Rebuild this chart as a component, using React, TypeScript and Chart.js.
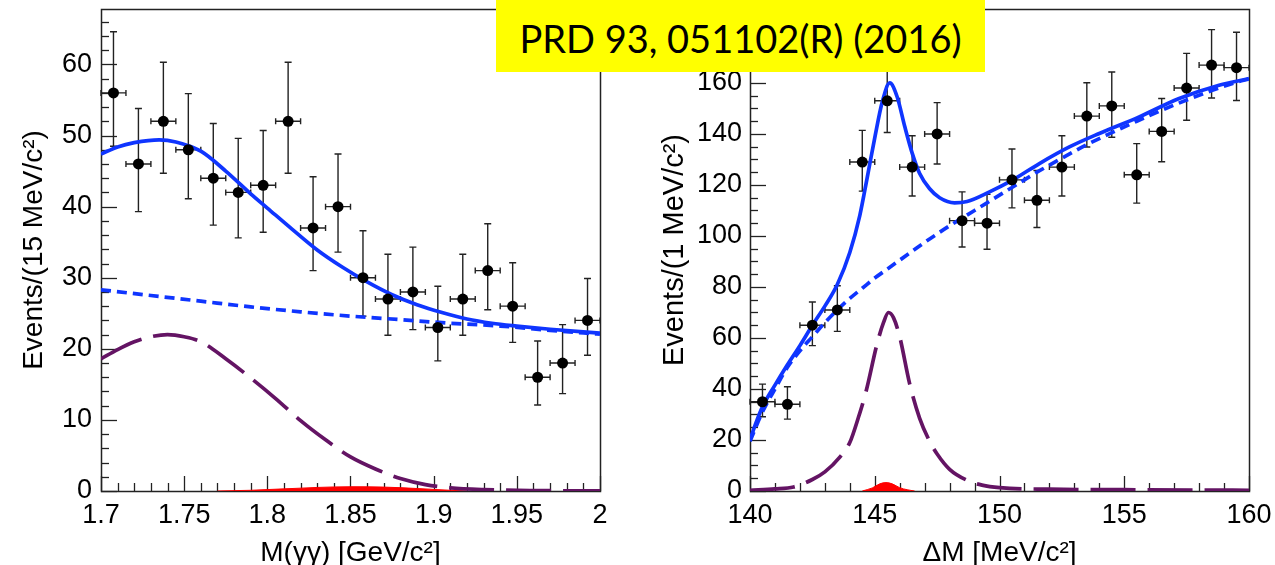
import React, { useEffect, useRef } from "react";
import { Chart, registerables } from "chart.js";

Chart.register(...registerables);

// ---------------- Left panel: M(γγ) ----------------
const leftBinCenters = [1.7075, 1.7225, 1.7375, 1.7525, 1.7675, 1.7825, 1.7975, 1.8125, 1.8275, 1.8425, 1.8575, 1.8725, 1.8875, 1.9025, 1.9175, 1.9325, 1.9475, 1.9625, 1.9775, 1.9925];
const leftCounts = [56, 46, 52, 48, 44, 42, 43, 52, 37, 40, 30, 27, 28, 23, 27, 31, 26, 16, 18, 24];
const leftErrLow = [7.5, 6.7, 7.3, 6.9, 6.6, 6.4, 6.6, 7.3, 6.0, 6.4, 5.4, 5.1, 5.3, 4.7, 5.1, 5.5, 5.1, 3.9, 4.3, 4.9];
const leftErrHigh = [8.6, 7.8, 8.3, 7.9, 7.7, 7.6, 7.7, 8.3, 7.2, 7.4, 6.6, 6.3, 6.3, 5.8, 6.3, 6.6, 6.1, 5.1, 5.4, 5.9];
const leftHalfBin = 0.0075;

const leftTotalX = [1.7, 1.71, 1.72, 1.735, 1.745, 1.76, 1.775, 1.79, 1.8, 1.815, 1.83, 1.845, 1.86, 1.875, 1.89, 1.905, 1.92, 1.935, 1.95, 1.97, 2.0];
const leftTotalY = [47.4, 48.4, 49.0, 49.4, 49.1, 47.8, 45.0, 41.8, 39.8, 36.8, 33.9, 31.5, 29.4, 27.6, 26.2, 25.1, 24.2, 23.6, 23.2, 22.75, 22.2];
const leftBkgX = [1.7, 1.73, 1.76, 1.79, 1.82, 1.85, 1.88, 1.91, 1.94, 1.97, 2.0];
const leftBkgY = [28.3, 27.5, 26.7, 25.9, 25.2, 24.6, 24.1, 23.6, 23.2, 22.6, 22.05];
const leftSigX = [1.7, 1.71, 1.72, 1.73, 1.74, 1.75, 1.76, 1.775, 1.79, 1.805, 1.82, 1.835, 1.85, 1.865, 1.88, 1.895, 1.91, 1.93, 1.96, 2.0];
const leftSigY = [18.6, 19.9, 21.0, 21.7, 22.0, 21.7, 21.0, 18.6, 15.9, 13.0, 9.9, 7.2, 4.8, 3.1, 1.75, 0.9, 0.45, 0.2, 0.06, 0.02];
const leftPeakX = [1.77, 1.79, 1.81, 1.83, 1.85, 1.87, 1.89, 1.91, 1.92];
const leftPeakY = [0, 0.1, 0.3, 0.5, 0.6, 0.55, 0.35, 0.1, 0];

const leftXTicks = [1.7, 1.75, 1.8, 1.85, 1.9, 1.95, 2.0];
const leftYTicks = [0, 10, 20, 30, 40, 50, 60];

// ---------------- Right panel: ΔM ----------------
const rightBinCenters = [140.5, 141.5, 142.5, 143.5, 144.5, 145.5, 146.5, 147.5, 148.5, 149.5, 150.5, 151.5, 152.5, 153.5, 154.5, 155.5, 156.5, 157.5, 158.5, 159.5];
const rightCounts = [35, 34, 65, 71, 129, 153, 127, 140, 106, 105, 122, 114, 127, 147, 151, 124, 141, 158, 167, 166];
const rightErrLow = [5.9, 5.8, 8.0, 8.4, 11.4, 12.4, 11.3, 11.8, 10.3, 10.2, 11.0, 10.7, 11.3, 12.1, 12.3, 11.1, 11.9, 12.6, 12.9, 12.9];
const rightErrHigh = [6.9, 6.9, 9.1, 9.5, 12.4, 13.4, 12.3, 12.3, 11.3, 11.3, 12.1, 11.7, 12.3, 13.1, 13.3, 12.2, 12.9, 13.6, 13.9, 13.9];
const rightHalfBin = 0.5;

const rightTotalX = [140.0, 140.25, 140.5, 141.0, 141.5, 142.0, 142.5, 143.0, 143.5, 144.0, 144.4, 144.7, 145.0, 145.3, 145.6, 145.9, 146.2, 146.5, 146.8, 147.2, 147.6, 148.2, 148.7, 149.6, 150.5, 151.6, 152.8, 154.0, 155.6, 157.2, 158.8, 160.0];
const rightTotalY = [20, 27, 33, 41.5, 49.5, 57, 65, 72.5, 81, 93.5, 108, 123, 138.5, 152.5, 160, 154.5, 143, 132.5, 124.5, 118.5, 115, 113, 113.5, 117.3, 121.8, 128.4, 134.9, 140.2, 146.7, 153.9, 159.1, 161.7];
const rightBkgX = [140.0, 140.5, 141.0, 141.5, 142.0, 142.5, 143.0, 143.5, 144.0, 144.5, 145.0, 145.5, 146.0, 146.5, 147.0, 147.5, 148.0, 148.5, 149.0, 149.5, 150.0, 150.5, 151.5, 152.5, 153.5, 154.5, 155.5, 156.5, 157.5, 158.5, 159.5, 160.0];
const rightBkgY = [19.5, 31, 40, 48.5, 55, 60.5, 66, 71, 75.5, 79.5, 83.5, 87, 90.5, 94, 97.5, 100.8, 104, 107, 110, 113, 116, 119, 125, 130.5, 135.8, 140.5, 145, 149.3, 153.3, 157, 160.3, 161.6];
const rightSigX = [140.0, 141.0, 141.75, 142.5, 143.0, 143.6, 144.0, 144.35, 144.65, 145.1, 145.35, 145.55, 145.75, 146.0, 146.4, 146.8, 147.2, 147.5, 148.0, 148.7, 149.3, 150.0, 152.0, 155.0, 160.0];
const rightSigY = [0.3, 0.8, 1.6, 4.5, 7.5, 13.3, 19, 29, 39, 58, 66, 70, 68, 60.5, 42, 28.5, 19.5, 14.5, 8.5, 4.2, 2.3, 1.3, 0.7, 0.5, 0.3];
const rightPeakX = [144.5, 144.9, 145.2, 145.45, 145.7, 146.0, 146.3, 146.6];
const rightPeakY = [0, 1.2, 2.8, 3.3, 2.8, 1.3, 0.5, 0];

const rightXTicks = [140, 145, 150, 155, 160];
const rightYTicks = [0, 20, 40, 60, 80, 100, 120, 140, 160];

const FONT = "'Liberation Sans', Arial, Helvetica, sans-serif";
const BLUE = "#0f35ff";
const PURPLE = "#641464";

type Panel = {
  binX: number[]; counts: number[]; errLo: number[]; errHi: number[]; halfBin: number;
  totalX: number[]; totalY: number[]; bkgX: number[]; bkgY: number[];
  sigX: number[]; sigY: number[]; peakX: number[]; peakY: number[];
  xMin: number; xMax: number; yMin: number; yMax: number;
  xTicks: number[]; yTicks: number[]; xMinor: number; yMinor: number;
  xTitle: string; yTitle: string;
  yAxisWidth: number; padRight: number; yTitleSize: number; yTitlePad: number; yLabelPad: number;
};

const leftPanel: Panel = {
  binX: leftBinCenters, counts: leftCounts, errLo: leftErrLow, errHi: leftErrHigh, halfBin: leftHalfBin,
  totalX: leftTotalX, totalY: leftTotalY, bkgX: leftBkgX, bkgY: leftBkgY,
  sigX: leftSigX, sigY: leftSigY, peakX: leftPeakX, peakY: leftPeakY,
  xMin: 1.7, xMax: 2.0, yMin: 0, yMax: 67.8,
  xTicks: leftXTicks, yTicks: leftYTicks, xMinor: 0.01, yMinor: 2,
  xTitle: "M(\u03B3\u03B3) [GeV/c\u00B2]", yTitle: "Events/(15 MeV/c\u00B2)",
  yAxisWidth: 101, padRight: 30, yTitleSize: 28, yTitlePad: 20, yLabelPad: 9,
};

const rightPanel: Panel = {
  binX: rightBinCenters, counts: rightCounts, errLo: rightErrLow, errHi: rightErrHigh, halfBin: rightHalfBin,
  totalX: rightTotalX, totalY: rightTotalY, bkgX: rightBkgX, bkgY: rightBkgY,
  sigX: rightSigX, sigY: rightSigY, peakX: rightPeakX, peakY: rightPeakY,
  xMin: 140, xMax: 160, yMin: 0, yMax: 189,
  xTicks: rightXTicks, yTicks: rightYTicks, xMinor: 1, yMinor: 5,
  xTitle: "\u0394M [MeV/c\u00B2]", yTitle: "Events/(1 MeV/c\u00B2)",
  yAxisWidth: 120, padRight: 26, yTitleSize: 29, yTitlePad: 30.5, yLabelPad: 8,
};

const pts = (xs: number[], ys: number[]) => xs.map((x, i) => ({ x, y: ys[i] }));
const fmt = (v: number) => String(Number(v.toFixed(3)));

function makeFramePlugin(p: Panel) {
  return {
    id: "frameTicks",
    beforeDatasetsDraw(chart: any) {
      const { ctx, chartArea: a, scales } = chart;
      const x = scales.x, y = scales.y;
      ctx.save();
      ctx.strokeStyle = "#222";
      ctx.lineWidth = 1.3;
      const isMajor = (v: number, majors: number[], step: number) => majors.some((m) => Math.abs(m - v) < step * 0.01);
      const nx = Math.round((p.xMax - p.xMin) / p.xMinor);
      for (let k = 0; k <= nx; k++) {
        const v = p.xMin + k * p.xMinor;
        const len = isMajor(v, p.xTicks, p.xMinor) ? 15 : 8;
        const px = Math.round(x.getPixelForValue(v)) + 0.5;
        ctx.beginPath(); ctx.moveTo(px, a.bottom); ctx.lineTo(px, a.bottom - len); ctx.stroke();
      }
      const ny = Math.floor((p.yMax - p.yMin) / p.yMinor);
      for (let k = 0; k <= ny; k++) {
        const v = p.yMin + k * p.yMinor;
        const len = isMajor(v, p.yTicks, p.yMinor) ? 16 : 8;
        const py = Math.round(y.getPixelForValue(v)) + 0.5;
        ctx.beginPath(); ctx.moveTo(a.left, py); ctx.lineTo(a.left + len, py); ctx.stroke();
      }
      ctx.lineWidth = 1.5;
      ctx.strokeRect(Math.round(a.left) + 0.5, Math.round(a.top) + 0.5, Math.round(a.right - a.left), Math.round(a.bottom - a.top));
      ctx.restore();
    },
  };
}

function makeErrorBarPlugin(p: Panel) {
  return {
    id: "errorBars",
    beforeDatasetsDraw(chart: any) {
      const { ctx, scales } = chart;
      const x = scales.x, y = scales.y;
      ctx.save();
      ctx.strokeStyle = "#222";
      ctx.lineWidth = 1.4;
      p.binX.forEach((xv, i) => {
        const yv = p.counts[i];
        const px = x.getPixelForValue(xv);
        const py = y.getPixelForValue(yv);
        const yl = y.getPixelForValue(yv - p.errLo[i]);
        const yh = y.getPixelForValue(yv + p.errHi[i]);
        const xl = x.getPixelForValue(xv - p.halfBin);
        const xr = x.getPixelForValue(xv + p.halfBin);
        ctx.beginPath();
        ctx.moveTo(px, yl); ctx.lineTo(px, yh);
        ctx.moveTo(px - 3.5, yl); ctx.lineTo(px + 3.5, yl);
        ctx.moveTo(px - 3.5, yh); ctx.lineTo(px + 3.5, yh);
        ctx.moveTo(xl, py); ctx.lineTo(xr, py);
        ctx.moveTo(xl, py - 3); ctx.lineTo(xl, py + 3);
        ctx.moveTo(xr, py - 3); ctx.lineTo(xr, py + 3);
        ctx.stroke();
      });
      ctx.restore();
    },
  };
}

function makeConfig(p: Panel): any {
  const curve = (xs: number[], ys: number[], color: string, dash: number[]) => ({
    data: pts(xs, ys),
    showLine: true,
    borderColor: color,
    borderWidth: 3.7,
    borderDash: dash,
    pointRadius: 0,
    cubicInterpolationMode: "monotone",
    fill: false,
  });
  return {
    type: "scatter",
    data: {
      datasets: [
        {
          data: pts(p.binX, p.counts),
          pointRadius: 5.5,
          pointBackgroundColor: "#000",
          pointBorderWidth: 0,
          showLine: false,
        },
        curve(p.totalX, p.totalY, BLUE, []),
        curve(p.bkgX, p.bkgY, BLUE, [10, 6]),
        curve(p.sigX, p.sigY, PURPLE, [45, 12]),
        {
          data: pts(p.peakX, p.peakY),
          showLine: true,
          borderColor: "#ff0000",
          borderWidth: 1,
          backgroundColor: "#ff0000",
          pointRadius: 0,
          cubicInterpolationMode: "monotone",
          fill: "origin",
        },
      ],
    },
    options: {
      animation: false,
      responsive: false,
      events: [],
      layout: { padding: { left: 0, top: 9, right: p.padRight, bottom: 0 } },
      plugins: { legend: { display: false }, tooltip: { enabled: false }, title: { display: false } },
      scales: {
        x: {
          type: "linear",
          min: p.xMin,
          max: p.xMax,
          grid: { display: false, drawTicks: false },
          border: { display: false },
          afterBuildTicks: (s: any) => { s.ticks = p.xTicks.map((v) => ({ value: v })); },
          afterFit: (s: any) => { s.height = 74; s.paddingLeft = 0; s.paddingRight = 0; s.paddingTop = 0; s.paddingBottom = 0; },
          ticks: { autoSkip: false, maxRotation: 0, padding: 8, color: "#000", font: { family: FONT, size: 27 }, callback: (v: number) => fmt(v) },
          title: { display: true, text: p.xTitle, color: "#000", font: { family: FONT, size: 28, lineHeight: 0.8 }, padding: { top: 0, bottom: 0.5 } },
        },
        y: {
          type: "linear",
          min: p.yMin,
          max: p.yMax,
          grid: { display: false, drawTicks: false },
          border: { display: false },
          afterBuildTicks: (s: any) => { s.ticks = p.yTicks.map((v) => ({ value: v })); },
          afterFit: (s: any) => { s.width = p.yAxisWidth; s.paddingTop = 0; s.paddingBottom = 0; s.paddingLeft = 0; s.paddingRight = 0; },
          ticks: { autoSkip: false, padding: p.yLabelPad, color: "#000", font: { family: FONT, size: 27 }, callback: (v: number) => fmt(v) },
          title: { display: true, text: p.yTitle, color: "#000", font: { family: FONT, size: p.yTitleSize, lineHeight: 1 }, padding: { top: p.yTitlePad, bottom: 0 } },
        },
      },
    },
    plugins: [makeFramePlugin(p), makeErrorBarPlugin(p)],
  };
}

export default function App() {
  const leftRef = useRef<HTMLCanvasElement>(null);
  const rightRef = useRef<HTMLCanvasElement>(null);

  useEffect(() => {
    Chart.defaults.font.family = FONT;
    const c1 = new Chart(leftRef.current as HTMLCanvasElement, makeConfig(leftPanel));
    const c2 = new Chart(rightRef.current as HTMLCanvasElement, makeConfig(rightPanel));
    return () => { c1.destroy(); c2.destroy(); };
  }, []);

  return (
    <div style={{ position: "fixed", left: 0, top: 0, width: 1275, height: 565, background: "#fff", overflow: "hidden" }}>
      <canvas ref={leftRef} width={630} height={565} style={{ position: "absolute", left: 0, top: 0, width: 630, height: 565 }} />
      <canvas ref={rightRef} width={645} height={565} style={{ position: "absolute", left: 630, top: 0, width: 645, height: 565 }} />
      <div style={{ position: "absolute", left: 496, top: 0, width: 489, height: 72, background: "#ffff00" }}>
        <span style={{ position: "absolute", left: 0, width: "100%", top: 19, textAlign: "center", fontFamily: "Lato, 'Open Sans', sans-serif", fontSize: 38, lineHeight: "38px", color: "#000", whiteSpace: "nowrap" }}>
          PRD 93, 051102(R) (2016)
        </span>
      </div>
    </div>
  );
}
